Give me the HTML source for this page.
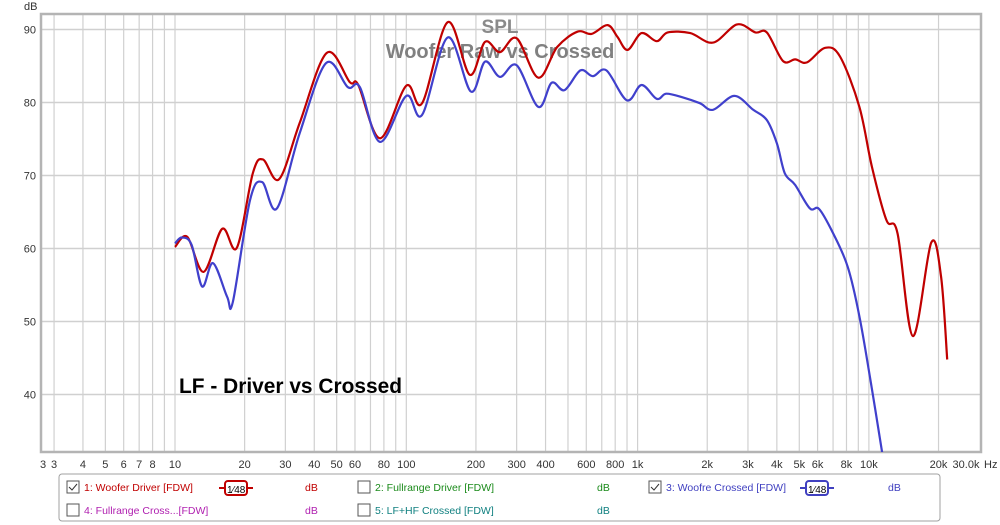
<!DOCTYPE html>
<html><head><meta charset="utf-8"><style>
html,body{margin:0;padding:0;background:#fff;width:1000px;height:525px;overflow:hidden}
svg{display:block;font-family:"Liberation Sans",sans-serif}
</style></head><body>
<svg id="chart" width="1000" height="525" viewBox="0 0 1000 525">
<g id="grid"></g>
<rect x="41" y="14" width="940" height="438" fill="none" stroke="#b4b4b4" stroke-width="2.5"/>
<g id="yticks"></g>
<g id="xticks"></g>
<text x="24" y="10" font-size="11" fill="#333">dB</text>
<text x="984" y="468" font-size="11" fill="#333">Hz</text>
<text x="500" y="33" text-anchor="middle" font-size="19" font-weight="bold" fill="#8a8a8a">SPL</text>
<text x="500" y="58" text-anchor="middle" font-size="20" font-weight="bold" fill="#808080">Woofer Raw vs Crossed</text>
<g id="series"></g>
<text x="179" y="393" font-size="21" font-weight="bold" fill="#000" textLength="223" lengthAdjust="spacingAndGlyphs">LF - Driver vs Crossed</text>
<g font-size="10.5">
<rect x="59" y="474" width="881" height="47" rx="3" fill="#fff" stroke="#a0a0a0"/>
<g>
<rect x="67" y="481" width="12" height="12" fill="#fff" stroke="#555"/><path d="M69 487l3 3 5-6" fill="none" stroke="#333"/>
<text x="84" y="491" fill="#c00000">1: Woofer Driver [FDW]</text>
<path d="M219 488h6M247 488h6" stroke="#c00000" stroke-width="2"/><rect x="225" y="481" width="22" height="14" rx="3" fill="#fff" stroke="#c00000" stroke-width="2"/><text x="227" y="493" font-size="10" fill="#000">1⁄48</text>
<text x="305" y="491" fill="#c00000">dB</text></g>
<g>
<rect x="358" y="481" width="12" height="12" fill="#fff" stroke="#555"/>
<text x="375" y="491" fill="#1a8a1a">2: Fullrange Driver [FDW]</text><text x="597" y="491" fill="#1a8a1a">dB</text></g>
<g>
<rect x="649" y="481" width="12" height="12" fill="#fff" stroke="#555"/><path d="M651 487l3 3 5-6" fill="none" stroke="#333"/>
<text x="666" y="491" fill="#4040c0">3: Woofre Crossed [FDW]</text>
<path d="M800 488h6M828 488h6" stroke="#4040c0" stroke-width="2"/><rect x="806" y="481" width="22" height="14" rx="3" fill="#fff" stroke="#4040c0" stroke-width="2"/><text x="808" y="493" font-size="10" fill="#000">1⁄48</text>
<text x="888" y="491" fill="#4040c0">dB</text></g>
<g>
<rect x="67" y="504" width="12" height="12" fill="#fff" stroke="#555"/>
<text x="84" y="514" fill="#b020b0">4: Fullrange Cross...[FDW]</text><text x="305" y="514" fill="#b020b0">dB</text></g>
<g>
<rect x="358" y="504" width="12" height="12" fill="#fff" stroke="#555"/>
<text x="375" y="514" fill="#108080">5: LF+HF Crossed [FDW]</text><text x="597" y="514" fill="#108080">dB</text></g>
</g>
</svg>
<script>
const yTicks=[90,80,70,60,50,40];
const xGrid=[3,4,5,6,7,8,9,10,20,30,40,50,60,70,80,90,100,200,300,400,500,600,700,800,900,1000,2000,3000,4000,5000,6000,7000,8000,9000,10000,20000];
const xLabelVals=[3,4,5,6,7,8,10,20,30,40,50,60,80,100,200,300,400,600,800,1000,2000,3000,4000,5000,6000,8000,10000,20000];
const xLabelText=["3","4","5","6","7","8","10","20","30","40","50","60","80","100","200","300","400","600","800","1k","2k","3k","4k","5k","6k","8k","10k","20k"];
const redFreq=[10,11.3,13.3,16,18.5,21.7,24,28.2,34.6,45.3,57,62,77,100,117,151,188,219,254,300,372,449,549,632,742,818,905,1040,1210,1350,1690,2120,2690,3230,3620,4250,4800,5400,6470,7500,9100,10300,11900,13300,15500,18600,20500,21800];
const redDb=[60.2,61.6,56.8,62.7,60.1,70.3,72.2,69.5,77.2,86.8,82.8,82.4,75.1,82.3,79.9,91.0,83.8,88.3,86.9,88.8,83.4,87.6,89.7,89.4,90.6,89.0,87.2,89.5,88.4,89.6,89.5,88.2,90.7,89.6,89.6,85.7,85.9,85.5,87.5,86.3,79.4,71.2,63.9,62.1,48.0,60.8,56.2,44.8];
const blueFreq=[10,10.7,11.8,13.1,14.6,16.8,17.8,21.1,23.8,27.6,34.6,45,55.9,63,77,100,117,151,190,219,254,300,372,425,483,566,640,733,899,1040,1210,1330,1570,1860,2120,2620,3160,3620,4000,4330,4800,5550,6100,7000,8100,9100,10200,11400];
const blueDb=[60.7,61.5,60.5,54.8,58.0,53.4,52.7,66.6,69.1,65.5,75.8,85.4,82.1,82.1,74.6,80.9,78.3,88.9,81.5,85.6,83.5,85.1,79.4,82.7,81.7,84.4,83.6,84.4,80.3,82.4,80.5,81.2,80.7,79.9,79.0,80.9,79.0,77.6,74.4,70.3,68.7,65.5,65.4,62.1,57.5,50.7,41.6,32.1];
const NS='http://www.w3.org/2000/svg';
const X0=41,X1=981,Y0=14,Y1=452;
function xs(f){return 175+231.3*(Math.log10(f)-1);}
function ys(d){return 29.5+(90-d)*7.3;}
function mk(tag,attrs,parent){const e=document.createElementNS(NS,tag);for(const k in attrs)e.setAttribute(k,attrs[k]);parent.appendChild(e);return e;}
const grid=document.getElementById('grid'),yt=document.getElementById('yticks'),xt=document.getElementById('xticks');
yTicks.forEach(v=>{
  const l=mk('line',{x1:X0,x2:X1,y1:ys(v),y2:ys(v),stroke:'#d0d0d0','stroke-width':1.5},grid);
  
  
  const t=mk('text',{x:36,y:ys(v)+4,'text-anchor':'end','font-size':11,fill:'#333'},yt);
  
  
  t.textContent=v;
});
xGrid.forEach(f=>{
  const l=mk('line',{x1:xs(f),x2:xs(f),y1:Y0,y2:Y1,stroke:'#d0d0d0','stroke-width':1.2},grid);
  
  
});
const t0=mk('text',{x:43,y:468,'text-anchor':'middle','font-size':11,fill:'#333'},xt);


t0.textContent='3';
const tEnd=mk('text',{x:966,y:468,'text-anchor':'middle','font-size':11,fill:'#333'},xt);


tEnd.textContent='30.0k';
xLabelVals.forEach((f,i)=>{
  const t=mk('text',{x:xs(f),y:468,'text-anchor':'middle','font-size':11,fill:'#333'},xt);
  
  
  t.textContent=xLabelText[i];
});
function pathD(fr,db){
  const p=fr.map((f,i)=>[xs(f),ys(db[i])]);
  let d='M'+p[0][0].toFixed(1)+' '+p[0][1].toFixed(1);
  for(let i=0;i<p.length-1;i++){
    const a=p[i-1]||p[i],b=p[i],c=p[i+1],e=p[i+2]||c;
    const c1=[b[0]+(c[0]-a[0])/6,b[1]+(c[1]-a[1])/6],c2=[c[0]-(e[0]-b[0])/6,c[1]-(e[1]-b[1])/6];
    d+='C'+c1[0].toFixed(1)+' '+c1[1].toFixed(1)+' '+c2[0].toFixed(1)+' '+c2[1].toFixed(1)+' '+c[0].toFixed(1)+' '+c[1].toFixed(1);
  }
  return d;
}
const sg=document.getElementById('series');
const cp=mk('clipPath',{id:'clip'},sg);mk('rect',{x:X0,y:Y0,width:X1-X0,height:Y1-Y0},cp);
const red=mk('path',{d:pathD(redFreq,redDb),fill:'none',stroke:'#c00000','stroke-width':2.2,'clip-path':'url(#clip)'},sg);


const blue=mk('path',{d:pathD(blueFreq,blueDb),fill:'none',stroke:'#4040cc','stroke-width':2.2,'clip-path':'url(#clip)'},sg);


</script>
</body></html>
